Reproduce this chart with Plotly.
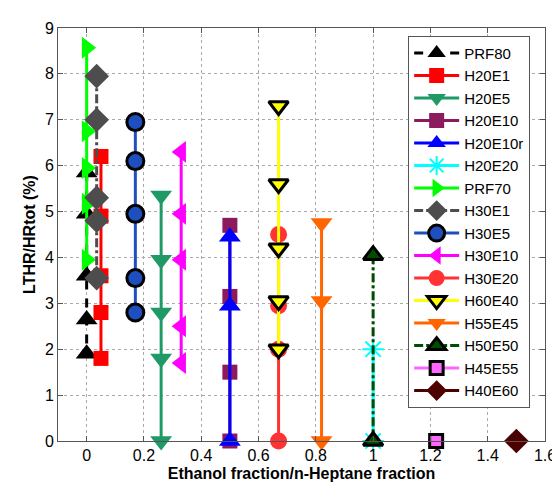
import plotly.graph_objects as go

# fuel blends, ethanol/n-heptane fraction and LTHR share of total heat release (%)
names = ["PRF80", "H20E1", "H20E5", "H20E10", "H20E10r", "H20E20", "PRF70", "H30E1",
         "H30E5", "H30E10", "H30E20", "H60E40", "H55E45", "H50E50", "H45E55", "H40E60"]
xfrac = [0, 0.05, 0.26, 0.5, 0.5, 1.0, 0, 0.035, 0.17, 0.33, 0.67, 0.67, 0.82, 1.0, 1.22, 1.5]
lthr = [
    [5.85, 4.95, 3.6, 2.65, 1.9],
    [6.2, 4.9, 3.6, 2.8, 1.8],
    [5.35, 3.95, 2.8, 1.8, 0],
    [4.7, 3.15, 1.5, 0],
    [4.45, 2.95, 0],
    [2.0, 0],
    [8.57, 6.75, 5.95, 5.17, 3.95],
    [7.95, 7.0, 5.3, 4.8, 3.55],
    [6.95, 6.1, 4.95, 3.55, 2.8],
    [6.3, 4.95, 3.95, 2.5, 1.7],
    [4.5, 2.95, 2.0, 0],
    [7.3, 5.6, 4.2, 3.05, 2.0],
    [4.75, 3.05, 0],
    [4.05, 0],
    [0],
    [0],
]

# (line colour, dash, symbol, size, fill, edge)
styles = [
    ("black", "dash", "triangle-up", 19, "black", "black"),
    ("#ff0000", "solid", "square", 15, "#ff0000", "#ff0000"),
    ("#1f9a66", "solid", "triangle-down", 19, "#1f9a66", "#1f9a66"),
    ("#8b1a5e", "solid", "square", 15, "#8b1a5e", "#8b1a5e"),
    ("#0000ff", "solid", "triangle-up", 19, "#0000ff", "#0000ff"),
    ("#00ffff", "solid", "asterisk-open", 18, "#00ffff", "#00ffff"),
    ("#00ff00", "solid", "triangle-right", 19, "#00ff00", "#00ff00"),
    ("#4d4d4d", "dashdot", "diamond", 19, "#4d4d4d", "#4d4d4d"),
    ("#1f4fbf", "solid", "circle", 17, "#1f4fbf", "black"),
    ("#ff00ff", "solid", "triangle-left", 19, "#ff00ff", "#ff00ff"),
    ("#ff3333", "solid", "circle", 17, "#ff3333", "#ff3333"),
    ("#ffff00", "solid", "triangle-down", 17, "#ffff00", "black"),
    ("#ff6600", "solid", "triangle-down", 19, "#ff6600", "#ff6600"),
    ("#004d00", "dashdot", "triangle-up", 17, "#004d00", "black"),
    ("#ff66ff", "solid", "square", 13, "#ff66ff", "black"),
    ("#4d0000", "solid", "diamond", 19, "#4d0000", "#4d0000"),
]

fig = go.Figure()
for name, x, ys, st in zip(names, xfrac, lthr, styles):
    lc, dash, sym, size, fill, edge = st
    black_edge = edge == "black" and fill != "black"
    fig.add_trace(go.Scatter(
        x=[x] * len(ys), y=ys, name=name, mode="lines+markers",
        line=dict(color=lc, width=3, dash=dash),
        marker=dict(symbol=sym, size=size, color=fill,
                    line=dict(color=edge, width=3 if black_edge else (2 if sym == "asterisk-open" else 0))),
        cliponaxis=False,
    ))

axis_style = dict(showline=True, linecolor="#555555", linewidth=1, mirror="ticks",
                  ticks="inside", ticklen=5, tickcolor="#555555",
                  showgrid=True, gridcolor="#aaaaaa", griddash="dot", gridwidth=1,
                  zeroline=False, tickfont=dict(size=16, color="black"))

fig.update_xaxes(range=[-0.1, 1.6], tickvals=[0, 0.2, 0.4, 0.6, 0.8, 1, 1.2, 1.4, 1.6],
                 ticktext=["0", "0.2", "0.4", "0.6", "0.8", "1", "1.2", "1.4", "1.6"],
                 title=dict(text="<b>Ethanol fraction/n-Heptane fraction</b>", font=dict(size=16), standoff=4),
                 **axis_style)
fig.update_yaxes(range=[0, 9], dtick=1,
                 title=dict(text="<b>LTHR/HRtot (%)</b>", font=dict(size=16), standoff=5),
                 **axis_style)

fig.update_layout(
    width=560, height=483,
    margin=dict(l=50, r=12, t=15, b=46),
    plot_bgcolor="white", paper_bgcolor="white",
    font=dict(family="Liberation Sans, Arial, sans-serif", color="black"),
    legend=dict(x=0.719, y=0.981, xanchor="left", yanchor="top",
                bgcolor="white", bordercolor="#555555", borderwidth=1,
                font=dict(size=15), itemwidth=45, tracegroupgap=0),
)

fig.write_html("out.html")
